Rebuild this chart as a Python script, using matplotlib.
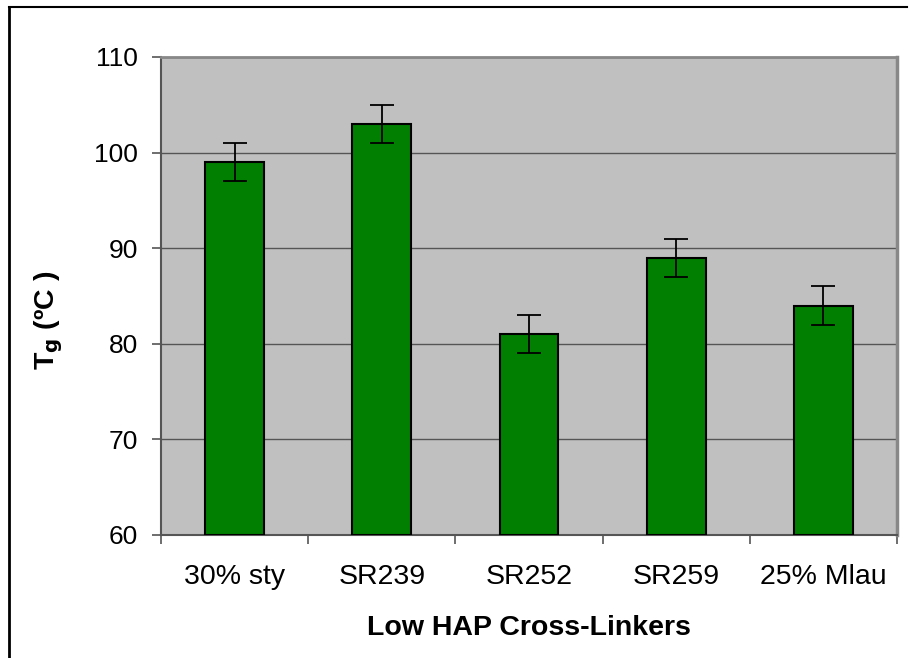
import matplotlib
matplotlib.use("Agg")
import matplotlib.pyplot as plt
from matplotlib.lines import Line2D
import numpy as np

categories = ["30% sty", "SR239", "SR252", "SR259", "25% Mlau"]
tg_values  = [99, 103, 81, 89, 84]
tg_errors  = [2, 2, 2, 2, 2]

plt.rcParams["font.family"] = ["Liberation Sans", "DejaVu Sans"]

fig = plt.figure(figsize=(9.12, 6.58), dpi=100)
ax = fig.add_axes([161 / 912, 1 - 535 / 658, (897 - 161) / 912, (535 - 57) / 658])

ax.set_facecolor("#C0C0C0")
x = np.arange(len(categories))
ax.bar(x, [v - 60 for v in tg_values], bottom=60, width=0.4,
       color="#007F00", edgecolor="black", linewidth=1.5, zorder=3)
ax.errorbar(x, tg_values, yerr=tg_errors, fmt="none", ecolor="black",
            elinewidth=1.3, capsize=8.5, capthick=1.3, zorder=4)

ax.set_xlim(-0.5, len(categories) - 0.5)
ax.set_ylim(60, 110)
ax.set_yticks(range(60, 111, 10))
ax.yaxis.grid(True, color="#555555", linewidth=1.0, zorder=1)
ax.set_axisbelow(True)

ax.set_xticks(x)
ax.set_xticklabels(categories, fontsize=20.5)
ax.tick_params(axis="x", which="major", length=0, pad=21)
ax.set_xticks(np.arange(-0.5, len(categories), 1.0), minor=True)
ax.tick_params(axis="x", which="minor", length=6.5, color="#555555", width=1.2)
ax.tick_params(axis="y", labelsize=19, length=6.5, color="#555555", width=1.2, pad=10)

ax.spines["left"].set_color("#555555")
ax.spines["left"].set_linewidth(1.5)
ax.spines["bottom"].set_color("#555555")
ax.spines["bottom"].set_linewidth(1.5)
ax.spines["top"].set_color("#888888")
ax.spines["top"].set_linewidth(2)
ax.spines["right"].set_color("#888888")
ax.spines["right"].set_linewidth(2.5)

ax.set_xlabel("Low HAP Cross-Linkers", fontsize=20.5, fontweight="bold")
ax.xaxis.set_label_coords(0.5, -0.168)
ax.set_ylabel(r"T$_{\mathbf{g}}$ (ºC )", fontsize=20.5, fontweight="bold")
ax.yaxis.set_label_coords(-0.130, 0.448)

# partial frame around the chart (top and left edges)
fig.add_artist(Line2D([9 / 912, 9 / 912], [0, 1 - 7 / 658], transform=fig.transFigure,
                      color="black", linewidth=2))
fig.add_artist(Line2D([9 / 912, 907 / 912], [1 - 7 / 658, 1 - 7 / 658], transform=fig.transFigure,
                      color="black", linewidth=1.5))

fig.savefig("out.png", dpi=100)
